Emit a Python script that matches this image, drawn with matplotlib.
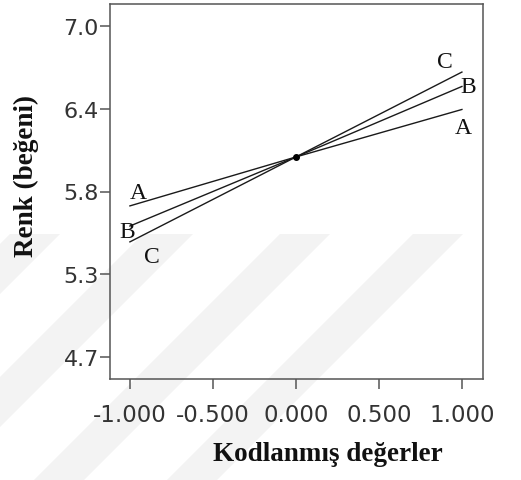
import matplotlib
matplotlib.use('Agg')
import matplotlib.pyplot as plt
from matplotlib.patches import Polygon

# data
levels = [-1.0, 0.0, 1.0]
renk_A = [5.75, 6.09, 6.42]
renk_B = [5.61, 6.09, 6.58]
renk_C = [5.50, 6.09, 6.68]
center = (0.0, 6.09)
yticks = [4.7, 5.275, 5.85, 6.425, 7.0]
ytick_labels = ['4.7', '5.3', '5.8', '6.4', '7.0']
xticks = [-1.0, -0.5, 0.0, 0.5, 1.0]
xtick_labels = ['-1.000', '-0.500', '0.000', '0.500', '1.000']

W, H = 521, 481
fig = plt.figure(figsize=(W / 100, H / 100), dpi=100)
fig.patch.set_facecolor('white')

# faint watermark bands behind everything
for x0, x1 in [(10, 60), (143, 193), (280, 330), (413, 463)]:
    pts = [(x0, 235), (x1, 235), (x1 - 246, 481), (x0 - 246, 481)]
    pts = [(px / W, 1 - py / H) for px, py in pts]
    fig.patches.append(Polygon(pts, closed=True, transform=fig.transFigure,
                               facecolor='#f3f3f3', edgecolor='none', zorder=-10))

ax = fig.add_axes([110 / W, 1 - 380 / H, (483 - 110) / W, (380 - 5) / H])
ax.set_facecolor('none')

line_kw = dict(color='#1a1a1a', lw=1.0)
ax.plot(levels, renk_A, **line_kw)
ax.plot(levels, renk_B, **line_kw)
ax.plot(levels, renk_C, **line_kw)
ax.plot([center[0]], [center[1]], 'o', color='black', ms=4)

ax.set_xlim(-1.12, 1.127)
ax.set_ylim(4.547, 7.153)

lab_kw = dict(textcoords='offset pixels', ha='center', va='center',
              fontsize=17, family='Liberation Serif', color='#111111')
ax.annotate('A', (levels[0], renk_A[0]), xytext=(8, 13), **lab_kw)
ax.annotate('B', (levels[0], renk_B[0]), xytext=(-3, -5), **lab_kw)
ax.annotate('C', (levels[0], renk_C[0]), xytext=(22, -15), **lab_kw)
ax.annotate('C', (levels[-1], renk_C[-1]), xytext=(-17, 11), **lab_kw)
ax.annotate('B', (levels[-1], renk_B[-1]), xytext=(6, 0), **lab_kw)
ax.annotate('A', (levels[-1], renk_A[-1]), xytext=(1, -18), **lab_kw)

ax.set_xticks(xticks)
ax.set_xticklabels(xtick_labels)
ax.set_yticks(yticks)
ax.set_yticklabels(ytick_labels)
ax.tick_params(axis='x', length=7, width=1.1, color='#555555', pad=10,
               labelsize=16.5, labelcolor='#333333')
ax.tick_params(axis='y', length=7, width=1.1, color='#555555', pad=1,
               labelsize=16, labelcolor='#333333')
for s in ax.spines.values():
    s.set_color('#555555')
    s.set_linewidth(1.1)

fig.text(328 / W, 1 - 455 / H, 'Kodlanmış değerler', ha='center', va='center',
         fontsize=19.5, fontweight='bold', family='Liberation Serif', color='#111111')
fig.text(26 / W, 1 - 176 / H, 'Renk (beğeni)', ha='center', va='center',
         rotation=90, fontsize=19.5, fontweight='bold', family='Liberation Serif',
         color='#111111')

fig.savefig('out.png', dpi=100)
